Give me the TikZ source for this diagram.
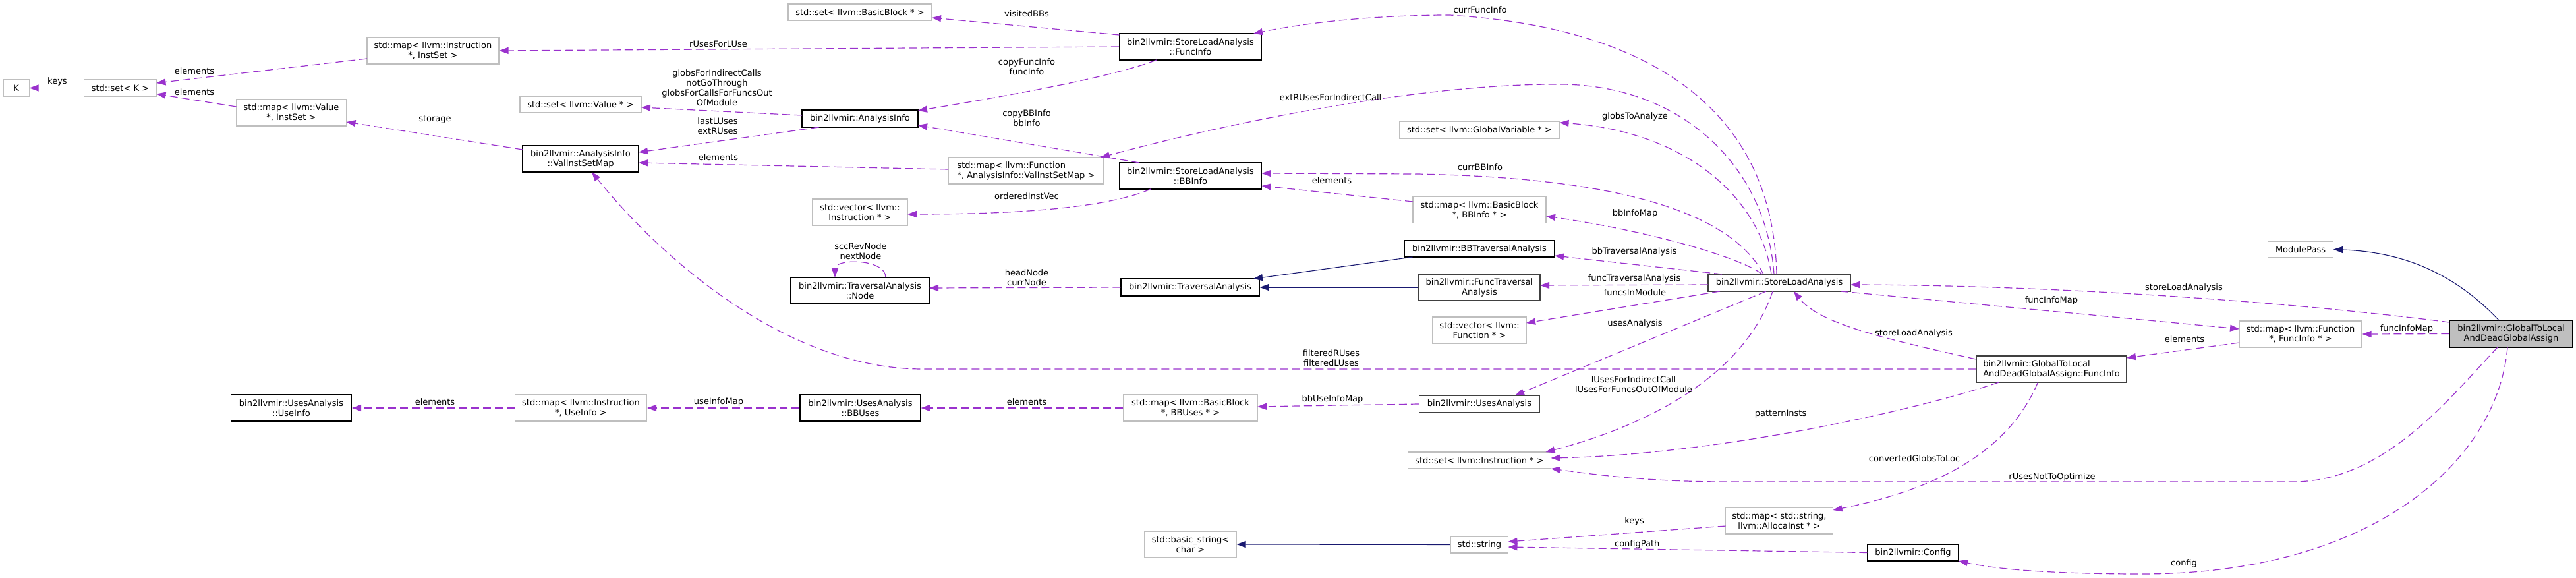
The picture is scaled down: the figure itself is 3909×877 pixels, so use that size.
\documentclass[tikz,border=0pt]{standalone}
\usepackage{fontspec}
\setmainfont{DejaVu Sans}
\usetikzlibrary{arrows.meta,calc}
\definecolor{edgep}{RGB}{154,50,205}
\definecolor{inhc}{RGB}{25,25,112}
\definecolor{lgray}{RGB}{191,191,191}
\tikzset{
 base/.style={rectangle, inner sep=0pt, font=\fontsize{13}{15}\selectfont, align=center, minimum height=25pt, line width=1.1pt},
 gbox/.style={base, draw=lgray, fill=white},
 bbox/.style={base, draw=black, fill=white},
 dbox/.style={base, draw=black!75, fill=white, line width=1.3pt},
 rbox/.style={base, draw=black, fill=lgray},
 two/.style={minimum height=40pt},
 uses/.style={draw=edgep, line width=1.2pt, dash pattern=on 12pt off 6pt, -{Triangle[length=14pt,width=10pt]}},
 inh/.style={draw=inhc, line width=1.1pt, -{Triangle[length=14pt,width=10pt]}},
 lbl/.style={font=\fontsize{13}{15}\selectfont, align=center, inner sep=0pt}
}
\begin{document}
\begin{tikzpicture}[x=1pt,y=-1pt]
\useasboundingbox (0,0) rectangle (3909,877);

% ---------- nodes ----------
\node[gbox,minimum width=39pt] (K) at (24.6,133.5) {K};
\node[gbox,minimum width=110pt] (setK) at (182.5,133.5) {std::set< K >};
\node[gbox,two,minimum width=200pt] (mapInstrSet) at (657,77) {std::map< llvm::Instruction\\*, InstSet >};
\node[gbox,two,minimum width=167pt] (mapValSet) at (442,171) {std::map< llvm::Value\\*, InstSet >};
\node[gbox,minimum width=218pt] (setBB) at (1305,18.5) {std::set< llvm::BasicBlock * >};
\node[gbox,minimum width=184pt] (setVal) at (881,158.5) {std::set< llvm::Value * >};
\node[bbox,minimum width=176pt,minimum height=26pt] (analysisInfo) at (1305,180) {bin2llvmir::AnalysisInfo};
\node[bbox,two,minimum width=176pt] (vism) at (881,241) {bin2llvmir::AnalysisInfo\\::ValInstSetMap};
\node[gbox,two,minimum width=144pt] (vecInstr) at (1305,322) {std::vector< llvm::\\Instruction * >};
\node[bbox,two,minimum width=210pt] (tnode) at (1305,441) {bin2llvmir::TraversalAnalysis\\::Node};
\node[bbox,two,minimum width=216pt] (slaFI) at (1806.5,71) {bin2llvmir::StoreLoadAnalysis\\::FuncInfo};
\node[gbox,two,minimum width=236pt,align=left] (mapFuncVISM) at (1557,259) {std::map< llvm::Function\\*, AnalysisInfo::ValInstSetMap >};
\node[bbox,two,minimum width=216pt] (bbInfo) at (1806.5,267) {bin2llvmir::StoreLoadAnalysis\\::BBInfo};
\node[bbox,minimum width=210pt,minimum height=26pt] (travAn) at (1806,436) {bin2llvmir::TraversalAnalysis};
\node[gbox,minimum width=243pt,minimum height=26pt] (setGV) at (2245,197) {std::set< llvm::GlobalVariable * >};
\node[gbox,two,minimum width=202pt] (mapBBInfo) at (2245,318.5) {std::map< llvm::BasicBlock\\*, BBInfo * >};
\node[bbox,minimum width=228pt] (bbTrav) at (2245,377.5) {bin2llvmir::BBTraversalAnalysis};
\node[dbox,two,minimum width=184pt] (funcTrav) at (2245,436) {bin2llvmir::FuncTraversal\\Analysis};
\node[dbox,minimum width=216pt,minimum height=26pt] (sla) at (2700,429) {bin2llvmir::StoreLoadAnalysis};
\node[gbox,minimum width=99pt] (modulePass) at (3491,378.5) {ModulePass};
\node[rbox,two,minimum width=187pt,minimum height=41pt] (gtl) at (3810.5,506.5) {bin2llvmir::GlobalToLocal\\AndDeadGlobalAssign};
\node[gbox,two,minimum width=186pt] (mapFuncFI) at (3491,507) {std::map< llvm::Function\\*, FuncInfo * >};
\node[dbox,two,minimum width=228pt,align=left] (gtlFI) at (3113,560) {bin2llvmir::GlobalToLocal\\AndDeadGlobalAssign::FuncInfo};
\node[gbox,two,minimum width=163pt] (mapStrAlloca) at (2700,790) {std::map< std::string,\\llvm::AllocaInst * >};
\node[bbox,minimum width=138pt] (config) at (2903,838.5) {bin2llvmir::Config};
\node[gbox,two,minimum width=142pt] (vecFunc) at (2245,501) {std::vector< llvm::\\Function * >};
\node[dbox,minimum width=183pt,minimum height=26pt] (usesAn) at (2245,613) {bin2llvmir::UsesAnalysis};
\node[gbox,minimum width=217pt] (setInstr) at (2245,698.5) {std::set< llvm::Instruction * >};
\node[gbox,minimum width=87pt] (stdString) at (2245,826.5) {std::string};
\node[bbox,two,minimum width=183pt] (bbUses) at (1305.5,619) {bin2llvmir::UsesAnalysis\\::BBUses};
\node[gbox,two,minimum width=203pt] (mapBBUses) at (1806.5,619) {std::map< llvm::BasicBlock\\*, BBUses * >};
\node[gbox,two,minimum width=139pt] (basicString) at (1806.5,826) {std::basic\_string<\\char >};
\node[gbox,two,minimum width=200pt] (mapInstrUse) at (881.5,619) {std::map< llvm::Instruction\\*, UseInfo >};
\node[bbox,two,minimum width=183pt] (useInfo) at (442,619) {bin2llvmir::UsesAnalysis\\::UseInfo};

% ---------- connectors ----------
\draw[uses] (setK.west) -- (K.east);
\node[lbl] (lKeys) at (87,124) {keys};
\draw[uses] ($(mapInstrSet)+(-100,12)$) -- ($(setK)+(55,-7.5)$);
\node[lbl] (lEl1) at (295,108) {elements};
\draw[uses] ($(mapValSet)+(-83.5,-9)$) -- ($(setK)+(55,9)$);
\node[lbl] (lEl2) at (295,140) {elements};
\draw[uses] ($(vism)+(-88,-14)$) -- ($(mapValSet)+(83.5,14)$);
\node[lbl] (lStor) at (660,181) {storage};
\draw[uses] ($(analysisInfo)+(-88,-5)$) -- ($(setVal)+(92,4.5)$);
\node[lbl] (lGlobs) at (1088,133.5) {globsForIndirectCalls\\notGoThrough\\globsForCallsForFuncsOut\\OfModule};
\draw[uses] ($(analysisInfo)+(-62,13)$) -- ($(vism)+(88,-10)$);
\node[lbl] (lLast) at (1089,191) {lastLUses\\extRUses};
\draw[uses] ($(mapFuncVISM)+(-118,-2)$) -- ($(vism)+(88,6)$);
\node[lbl] (lEl3) at (1090,239) {elements};
\draw[uses] (slaFI.west) -- (mapInstrSet.east);
\node[lbl] (lRUses) at (1090,67) {rUsesForLUse};
\draw[uses] ($(slaFI)+(-108,-18)$) -- ($(setBB)+(109,8.5)$);
\node[lbl] (lVis) at (1558,21) {visitedBBs};
\draw[uses] ($(slaFI)+(-51.5,20)$) .. controls (1680,120) and (1500,150) .. ($(analysisInfo)+(88,-12)$);
\node[lbl] (lCopyF) at (1558,101) {copyFuncInfo\\funcInfo};
\draw[uses] ($(bbInfo)+(-77.5,-20)$) -- ($(analysisInfo)+(88,10)$);
\node[lbl] (lCopyB) at (1558,179) {copyBBInfo\\bbInfo};
\draw[uses] ($(bbInfo)+(-60.5,20)$) .. controls (1680,315) and (1550,325) .. ($(vecInstr)+(72,3)$);
\node[lbl] (lOrd) at (1558,298) {orderedInstVec};
\draw[uses] (travAn.west) -- ($(tnode)+(105,-4)$);
\node[lbl] (lHead) at (1558,421) {headNode\\currNode};
\draw[uses] ($(tnode)+(39,-20)$) .. controls (1344,392) and (1267,392) .. ($(tnode)+(-38,-20)$);
\node[lbl] (lScc) at (1306,381) {sccRevNode\\nextNode};
\draw[inh] ($(bbTrav)+(-101.5,12.5)$) -- ($(travAn)+(96,-13)$);
\draw[inh] (funcTrav.west) -- (travAn.east);
\draw[uses] ($(mapBBInfo)+(-101,-12.5)$) -- ($(bbInfo)+(108,15)$);
\node[lbl] (lEl4) at (2021,274) {elements};
\draw[uses] (mapInstrUse.west) -- (useInfo.east);
\node[lbl] (lEl5) at (660,610) {elements};
\draw[uses] (bbUses.west) -- (mapInstrUse.east);
\node[lbl] (lUIM) at (1090.5,610) {useInfoMap};
\draw[uses] (mapBBUses.west) -- (bbUses.east);
\node[lbl] (lEl6) at (1558,610) {elements};
\draw[uses] (usesAn.west) -- ($(mapBBUses)+(101.5,-2)$);
\node[lbl] (lBBUIM) at (2022,606) {bbUseInfoMap};
\draw[inh] (stdString.west) -- (basicString.east);
\draw[uses] ($(mapStrAlloca)+(-81.5,8)$) -- ($(stdString)+(43.5,-4.5)$);
\node[lbl] (lKeys2) at (2480,791) {keys};
\draw[uses] (config.west) -- ($(stdString)+(43.5,3.5)$);
\node[lbl] (lCfgP) at (2481,826) {\_configPath};
\draw[uses] ($(gtl)+(-5.5,20.5)$) .. controls (3790,700) and (3600,871) .. (3250,871) .. controls (3100,871) and (3020,862) .. ($(config)+(69,12.5)$);
\node[lbl] (lCfg) at (3314,855) {config};
\draw[uses] ($(gtl)+(-20.5,20.5)$) .. controls (3720,600) and (3620,731) .. (3480,731) -- (2620,731) .. controls (2500,731) and (2420,720) .. ($(setInstr)+(108.5,12.5)$);
\node[lbl] (lRNot) at (3114,724) {rUsesNotToOptimize};
\draw[uses] ($(gtlFI)+(-20.5,20)$) .. controls (3050,680) and (2950,740) .. ($(mapStrAlloca)+(81.5,-16)$);
\node[lbl] (lConv) at (2905,696) {convertedGlobsToLoc};
\draw[uses] ($(gtlFI)+(-79.5,20)$) .. controls (2900,625) and (2600,690) .. ($(setInstr)+(108.5,-3.5)$);
\node[lbl] (lPat) at (2702,628) {patternInsts};
\draw[uses] (gtlFI.west) -- (1400,560) .. controls (1200,560) and (1010,400) .. ($(vism)+(17,20)$);
\node[lbl] (lFilt) at (2020,543.5) {filteredRUses\\filteredLUses};
\draw[uses] ($(mapFuncFI)+(-93,13)$) -- ($(gtlFI)+(114,-17)$);
\node[lbl] (lEl7) at (3315,515) {elements};
\draw[uses] (gtl.west) -- (mapFuncFI.east);
\node[lbl] (lFIM2) at (3652,499) {funcInfoMap};
\draw[inh] ($(gtl)+(-18.5,-20.5)$) .. controls (3720,410) and (3640,382) .. (modulePass.east);
\draw[uses] ($(gtl)+(-93.5,-17.5)$) .. controls (3450,455) and (3100,433) .. ($(sla)+(108,3)$);
\node[lbl] (lSLA1) at (3314,437) {storeLoadAnalysis};
\draw[uses] ($(gtlFI)+(-114.5,-15)$) .. controls (2850,512) and (2760,490) .. ($(sla)+(22,13)$);
\node[lbl] (lSLA2) at (2904,506) {storeLoadAnalysis};
\draw[uses] ($(sla)+(93,13)$) -- ($(mapFuncFI)+(-93,-8)$);
\node[lbl] (lFIM1) at (3113,456) {funcInfoMap};
\draw[uses] ($(sla)+(-4,-13)$) .. controls (2690,150) and (2480,40) .. (2200,23) .. controls (2080,23) and (1980,35) .. ($(slaFI)+(95.5,-20)$);
\node[lbl] (lCurF) at (2246,15) {currFuncInfo};
\draw[uses] ($(sla)+(-8,-13)$) .. controls (2680,250) and (2550,130) .. (2371,128) .. controls (2150,126) and (1850,190) .. ($(mapFuncVISM)+(113,-20)$);
\node[lbl] (lExtR) at (2019,148) {extRUsesForIndirectCall};
\draw[uses] ($(sla)+(-12,-13)$) .. controls (2670,300) and (2560,200) .. ($(setGV)+(121.5,-11)$);
\node[lbl] (lGTA) at (2481,177) {globsToAnalyze};
\draw[uses] ($(sla)+(-24,-13)$) .. controls (2630,330) and (2480,270) .. (2150,264) -- ($(bbInfo)+(108,-4)$);
\node[lbl] (lCurB) at (2246,254) {currBBInfo};
\draw[uses] ($(sla)+(-26,-13)$) .. controls (2640,390) and (2500,350) .. ($(mapBBInfo)+(101,9.5)$);
\node[lbl] (lBBIM) at (2481,324) {bbInfoMap};
\draw[uses] ($(sla)+(-87,-13)$) -- ($(bbTrav)+(114,10.5)$);
\node[lbl] (lBBT) at (2480,382) {bbTraversalAnalysis};
\draw[uses] ($(sla)+(-108,3)$) -- ($(funcTrav)+(92,-3)$);
\node[lbl] (lFT) at (2480,423) {funcTraversalAnalysis};
\draw[uses] ($(sla)+(-90,13)$) -- ($(vecFunc)+(71,-11)$);
\node[lbl] (lFIMod) at (2481,444) {funcsInModule};
\draw[uses] ($(sla)+(-20,13)$) -- ($(usesAn)+(54,-13)$);
\node[lbl] (lUA) at (2481,491) {usesAnalysis};
\draw[uses] ($(sla)+(-10,13)$) .. controls (2650,560) and (2520,640) .. ($(setInstr)+(100.5,-12.5)$);
\node[lbl] (lLU) at (2479,583.5) {lUsesForIndirectCall\\lUsesForFuncsOutOfModule};
\end{tikzpicture}
\end{document}
